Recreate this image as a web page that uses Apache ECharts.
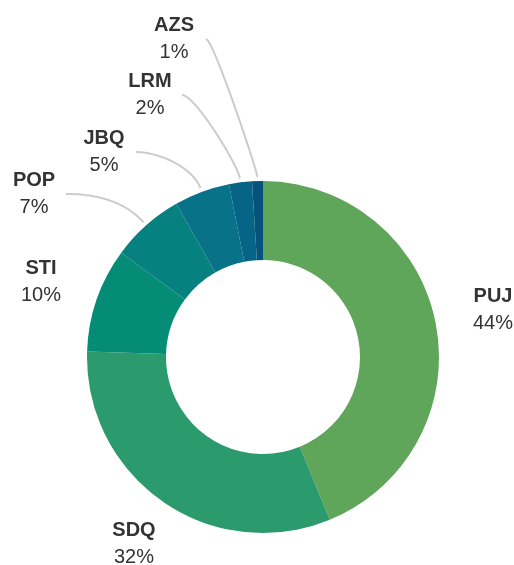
<!DOCTYPE html>
<html>
<head>
<meta charset="utf-8">
<script src="https://cdn.jsdelivr.net/npm/echarts@6/dist/echarts.min.js"></script>
<style>
  html, body { margin: 0; padding: 0; background: #fff; }
  #main { width: 514px; height: 565px; }
</style>
</head>
<body>
<div id="main"></div>
<script>
// airport codes, share of total
let codes  = ['PUJ', 'SDQ', 'STI', 'POP', 'JBQ', 'LRM', 'AZS'];
let shares = [43.8, 31.7, 9.6, 6.7, 5.1, 2.1, 1.0];
let colors = ['#5fa55a', '#2b9a6d', '#048c77', '#07817f', '#077288', '#066486', '#05537c'];
// big slices get their label without a connector line
let noLine = ['PUJ', 'SDQ', 'STI'];
// where each label block is centred (layout only)
let labelSpots = {
    PUJ: [493, 310],
    SDQ: [134, 544],
    STI: [41, 282],
    POP: [34, 194],
    JBQ: [104, 152],
    LRM: [150, 95],
    AZS: [174, 39]
};

let center = [263, 357];
let radius = [97, 176];

// curved connector: leaves the slice radially, reaches the label sideways
self.connector = function(anchor, end) {
    let dx = anchor[0] - center[0];
    let dy = anchor[1] - center[1];
    let len = Math.sqrt(dx * dx + dy * dy);
    let ux = dx / len;
    let uy = dy / len;
    let p3 = [center[0] + ux * (radius[1] + 4), center[1] + uy * (radius[1] + 4)];
    let p0 = end;
    let hx = p3[0] - p0[0];
    let dist = Math.sqrt(hx * hx + (p3[1] - p0[1]) * (p3[1] - p0[1]));
    let k = 0.4 * hx * hx / dist;
    let p1 = [p0[0] + (hx > 0 ? k : -k), p0[1]];
    let p2 = [p3[0] + ux * k, p3[1] + uy * k];
    let pts = [];
    for (let i = 0; i <= 30; i ++) {
        let t = i / 30;
        let a = (1 - t) * (1 - t) * (1 - t);
        let b = 3 * (1 - t) * (1 - t) * t;
        let c = 3 * (1 - t) * t * t;
        let d = t * t * t;
        pts.push([
            a * p0[0] + b * p1[0] + c * p2[0] + d * p3[0],
            a * p0[1] + b * p1[1] + c * p2[1] + d * p3[1]
        ]);
    }
    return pts.reverse();
};

let chart = echarts.init(document.getElementById('main'));

let data = [];
codes.forEach((code, i) => {
    data.push({
        name: code,
        value: shares[i],
        itemStyle: { color: colors[i] },
        labelLine: { show: noLine.indexOf(code) < 0 }
    });
});

chart.setOption({
    animation: false,
    textStyle: { fontFamily: 'Liberation Sans, Arial, sans-serif' },
    series: [{
        type: 'pie',
        center: center,
        radius: radius,
        startAngle: 90,
        clockwise: true,
        percentPrecision: 2,
        avoidLabelOverlap: false,
        data: data,
        label: {
            show: true,
            position: 'outside',
            overflow: 'none',
            formatter: (p) => '{n|' + p.name + '}\n{p|' + Math.round(p.percent) + '%}',
            rich: {
                n: { fontSize: 20, fontWeight: 'bold', color: '#333', width: 48, align: 'center', lineHeight: 27 },
                p: { fontSize: 20, color: '#333', width: 48, align: 'center', lineHeight: 27 }
            }
        },
        labelLine: {
            show: true,
            length: 20,
            length2: 20,
            smooth: false,
            lineStyle: { color: '#cccccc', width: 2 }
        },
        labelLayout: (params) => {
            let spot = labelSpots[codes[params.dataIndex]];
            let out = { x: spot[0], y: spot[1], align: 'center', verticalAlign: 'middle' };
            if (params.labelLinePoints && noLine.indexOf(codes[params.dataIndex]) < 0) {
                out.labelLinePoints = self.connector(params.labelLinePoints[0], [spot[0] + 32, spot[1]]);
            }
            return out;
        }
    }]
});
</script>
</body>
</html>
